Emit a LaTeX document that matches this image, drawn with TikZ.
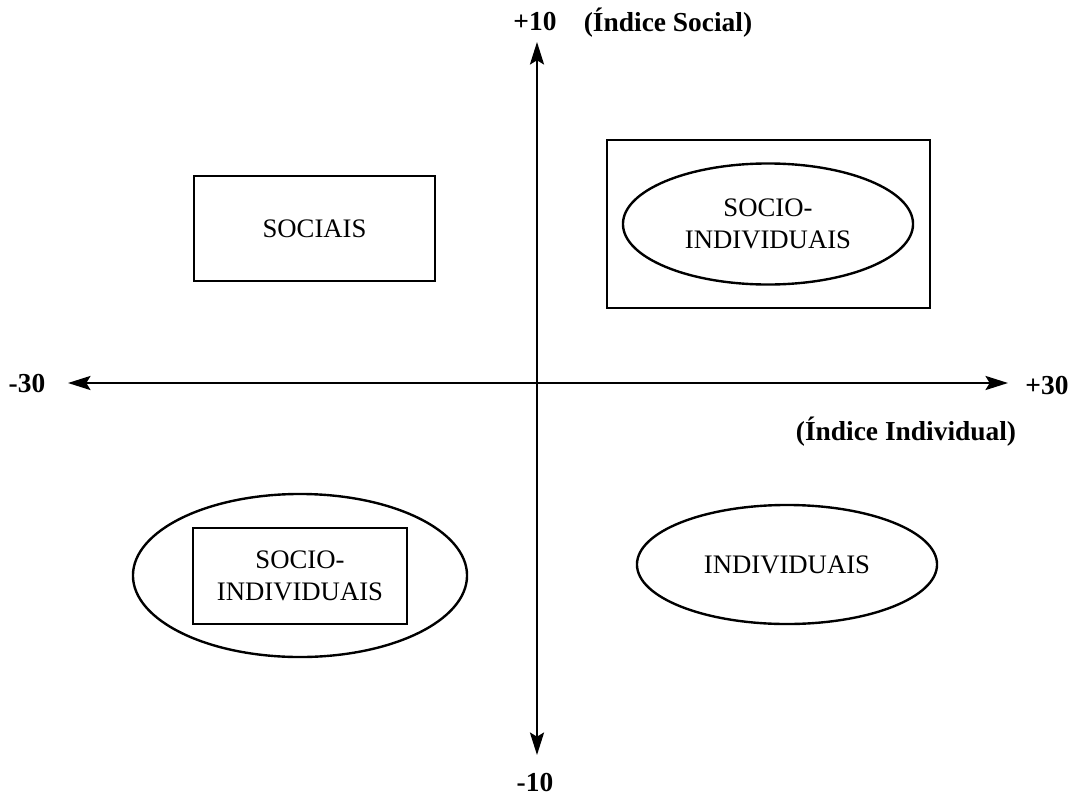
\documentclass[tikz,border=0pt]{standalone}
\usepackage{fontspec}
\setmainfont{Liberation Serif}
\usepackage{tikz}
\usetikzlibrary{shapes.geometric,arrows.meta,positioning,calc}

\begin{document}
\begin{tikzpicture}[x=0.025cm,y=-0.025cm,
    axis/.style={{Stealth[length=16pt,width=10pt,inset=3pt]}-{Stealth[length=16pt,width=10pt,inset=3pt]},line width=1.7pt},
    box/.style={draw,line width=1.7pt,inner sep=0pt,align=center,font=\fontsize{19}{22.8}\selectfont},
    oval/.style={box,ellipse},
    lbl/.style={inner sep=0pt,font=\fontsize{19.5}{23}\selectfont\bfseries}]
    \useasboundingbox (0,0) rectangle (1074,796);

    % Axes
    \coordinate (xmin) at (68,383);
    \coordinate (xmax) at (1008,383);
    \coordinate (ymax) at (537,42);
    \coordinate (ymin) at (537,755);
    \draw[axis] (xmin) -- (xmax);
    \draw[axis] (ymin) -- (ymax);

    % Axis labels
    \node[lbl] (lxmin) at (27,384) {-30};
    \node[lbl] (lxmax) at (1047,386) {+30};
    \node[lbl] (lymax) at (535,22) {+10};
    \node[lbl] (lymin) at (535,783) {-10};
    \node[lbl] (social) at (668,23) {(Índice Social)};
    \node[lbl] (individual) at (906,432) {(Índice Individual)};

    % Upper left
    \node[box,minimum width=6.025cm,minimum height=2.625cm] (sociais) at (314.5,228.5) {SOCIAIS};

    % Upper right
    \node[box,minimum width=8.075cm,minimum height=4.2cm] (frameSI) at (768.5,224) {};
    \node[oval,minimum width=7.25cm,minimum height=3.025cm] (ovalSI) at (768,224) {SOCIO-\\INDIVIDUAIS};

    % Lower left
    \node[oval,minimum width=8.35cm,minimum height=4.075cm] (ringSI) at (300,575.5) {};
    \node[box,minimum width=5.35cm,minimum height=2.4cm] (boxSI) at (300,576) {SOCIO-\\INDIVIDUAIS};

    % Lower right
    \node[oval,minimum width=7.5cm,minimum height=2.975cm] (individuais) at (787,564.5) {INDIVIDUAIS};
\end{tikzpicture}
\end{document}
